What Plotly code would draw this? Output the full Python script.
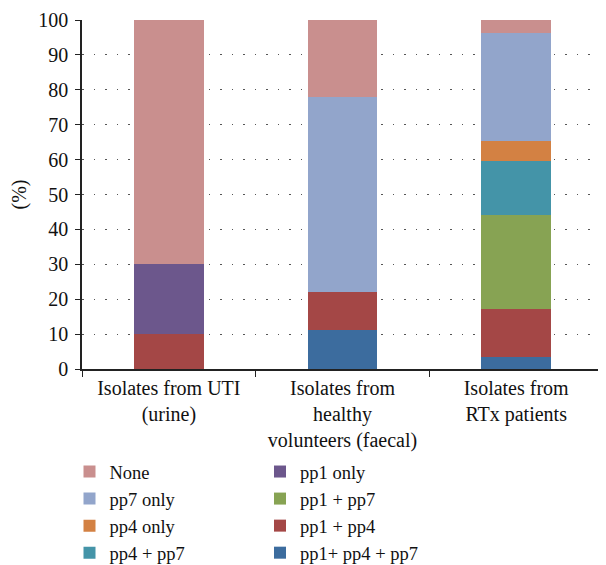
import plotly.graph_objects as go

categories = ["Isolates from UTI<br>(urine)",
              "Isolates from<br>healthy<br>volunteers (faecal)",
              "Isolates from<br>RTx patients"]

# stack order bottom -> top
series_names = ["pp1+ pp4 + pp7", "pp1 + pp4", "pp1 only", "pp1 + pp7",
                "pp4 + pp7", "pp4 only", "pp7 only", "None"]
val_pp1_pp4_pp7 = [0, 11.1, 3.5]
val_pp1_pp4 = [10, 11.1, 13.8]
val_pp1_only = [20, 0, 0]
val_pp1_pp7 = [0, 0, 26.9]
val_pp4_pp7 = [0, 0, 15.5]
val_pp4_only = [0, 0, 5.7]
val_pp7_only = [0, 55.6, 30.9]
val_none = [70, 22.2, 3.7]
series_values = [val_pp1_pp4_pp7, val_pp1_pp4, val_pp1_only, val_pp1_pp7,
                 val_pp4_pp7, val_pp4_only, val_pp7_only, val_none]
colors = ["#3C6C9E", "#A44746", "#6C578C", "#87A353",
          "#4494A8", "#D38143", "#92A5CB", "#C98F8E"]
# legend column assignment and rank (top to bottom within column)
legend_col = ["legend2", "legend2", "legend2", "legend2",
              "legend", "legend", "legend", "legend"]
legend_rank = [4, 3, 1, 2, 4, 3, 2, 1]

# page body has an 8px margin, so the figure is drawn 8px smaller and offset
W, H = 598, 557
FONT = "Liberation Serif"
fig = go.Figure()
for name, vals, col, lg, rk in zip(series_names, series_values, colors, legend_col, legend_rank):
    fig.add_trace(go.Bar(x=categories, y=vals, name=name, marker_color=col,
                         marker_line_width=0, legend=lg, legendrank=rk))

legend_common = dict(orientation="v", yanchor="top", xanchor="left",
                     traceorder="normal",
                     font=dict(family=FONT, size=18.5, color="#111"),
                     bgcolor="rgba(0,0,0,0)", itemwidth=30, tracegroupgap=0)
fig.update_layout(
    barmode="stack", bargap=0.6,
    width=W, height=H,
    margin=dict(l=0, r=0, t=0, b=0, autoexpand=False),
    plot_bgcolor="white", paper_bgcolor="white",
    font=dict(family=FONT, size=20, color="#111"),
    legend=dict(x=61.5 / W, y=(H - 445) / H, **legend_common),
    legend2=dict(x=252 / W, y=(H - 445) / H, **legend_common),
    yaxis=dict(range=[0, 100], dtick=10, showline=True, linecolor="#222", linewidth=1.5,
               domain=[(H - 361) / H, (H - 12) / H],
               ticks="outside", ticklen=5, tickcolor="#222", automargin=False,
               ticklabelstandoff=3,
               showgrid=True, gridcolor="#555", griddash="1.5px,10px", gridwidth=1.2,
               zeroline=False, tickfont=dict(family=FONT, size=20, color="#111"),
               title=dict(text="(%)", font=dict(family=FONT, size=20), standoff=11)),
    xaxis=dict(showline=True, linecolor="#222", linewidth=1.5, ticks="outside",
               domain=[74 / W, 595 / W],
               tickson="boundaries", ticklen=6, tickcolor="#222", automargin=False,
               tickangle=0,
               tickfont=dict(family=FONT, size=20, color="#111")),
)
fig.write_html("out.html")
